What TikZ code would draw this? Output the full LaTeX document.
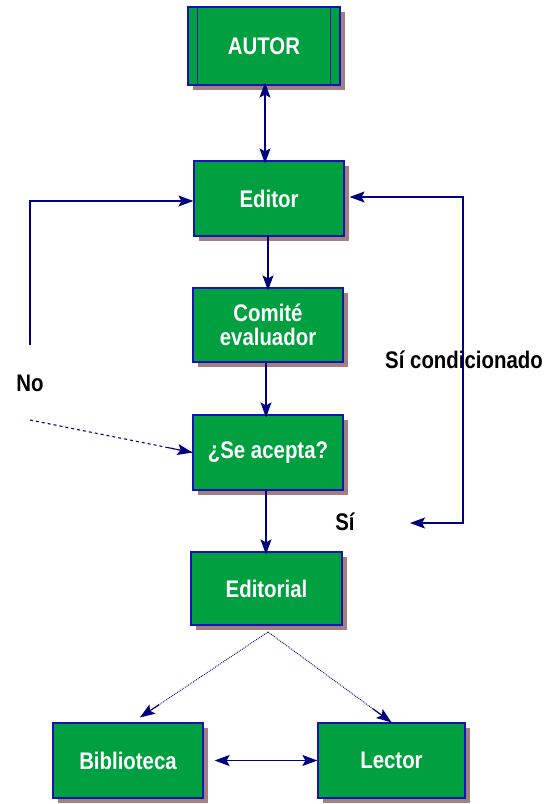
\documentclass[tikz,border=0pt]{standalone}
\usepackage{fontspec}
\setmainfont{Liberation Sans}[FakeStretch=0.85]
\usetikzlibrary{arrows.meta,shadows,calc}
\definecolor{verde}{RGB}{0,160,64}
\definecolor{azul}{RGB}{20,20,180}
\definecolor{marino}{RGB}{0,0,128}
\definecolor{sombra}{RGB}{163,128,128}
\tikzset{
  caja/.style={rectangle,fill=verde,draw=azul,line width=1.2pt,
    minimum width=150pt,minimum height=75pt,text=white,
    font=\fontsize{24}{28}\selectfont\bfseries,align=center,
    drop shadow={shadow xshift=5pt,shadow yshift=-5pt,fill=sombra,opacity=1}},
  etiqueta/.style={font=\fontsize{24}{28}\selectfont\bfseries,text=black},
  flecha/.style={draw=marino,line width=1.1pt,
    >={Stealth[length=15pt,width=11pt,inset=3pt]}},
}
\begin{document}
\begin{tikzpicture}[x=1pt,y=-1pt]
  \useasboundingbox (0,0) rectangle (552,804);
  % cajas
  \node[caja,minimum width=152pt,minimum height=78pt] (autor) at (264,46) {AUTOR};
  \node[caja] (editor) at (269,198.5) {Editor};
  \node[caja,minimum height=74pt] (comite) at (268,325) {Comité\\[-4pt]evaluador};
  \node[caja] (acepta) at (268,452.5) {¿Se acepta?};
  \node[caja,minimum width=151pt,minimum height=73pt] (editorial) at (266.5,588.5) {Editorial};
  \node[caja] (biblio) at (128,760.5) {Biblioteca};
  \node[caja,minimum width=147pt] (lector) at (391.5,760.5) {Lector};
  \draw[azul,line width=1.2pt]
    ([xshift=10pt]autor.north west) -- ([xshift=10pt]autor.south west)
    ([xshift=-10pt]autor.north east) -- ([xshift=-10pt]autor.south east);
  % etiquetas
  \node[etiqueta] (no) at (30,383) {No};
  \node[etiqueta] (sicond) at (464,360) {Sí condicionado};
  \node[etiqueta] (si) at (345,522) {Sí};
  % puntos libres
  \coordinate (noarriba) at (30,345);
  \coordinate (noabajo) at (30,420);
  \coordinate (dcha) at (463,197);
  \coordinate (dchabajo) at (463,523);
  \coordinate (sifin) at (410,523);
  \coordinate (edpie) at (268,632);
  \coordinate (bibtop) at ([xshift=12pt,yshift=5pt]biblio.north);
  \coordinate (lectop) at (lector.north);
  % conectores
  \begin{scope}[flecha]
    \draw[<->] ([yshift=3pt]autor.south -| 265,0) -- ([yshift=-3pt]editor.north -| 265,0);
    \draw[->] ([yshift=2pt]editor.south -| 268,0) -- ([yshift=-3pt]comite.north -| 268,0);
    \draw[->] (comite.south -| 266,0) -- ([yshift=-3pt]acepta.north -| 266,0);
    \draw[->] ([yshift=2pt]acepta.south -| 266,0) -- ([yshift=-3pt]editorial.north -| 266,0);
    \draw[->] (noarriba) |- (editor.west |- 0,201);
    \draw[dashed] (noabajo) -- (acepta.west);
    \draw[->] ($(noabajo)!0.85!(acepta.west)$) -- (acepta.west);
    \draw[<->] ([xshift=5pt]editor.east |- dcha) -- (dcha) -- (dchabajo) -- (sifin);
    \draw[densely dotted,line width=0.9pt] (edpie) -- (bibtop) (edpie) -- (lectop);
    \draw[->] ($(edpie)!0.85!(bibtop)$) -- (bibtop);
    \draw[->] ($(edpie)!0.85!(lectop)$) -- (lectop);
    \draw[<->] ([xshift=11pt]biblio.east) -- (lector.west);
  \end{scope}
\end{tikzpicture}
\end{document}
